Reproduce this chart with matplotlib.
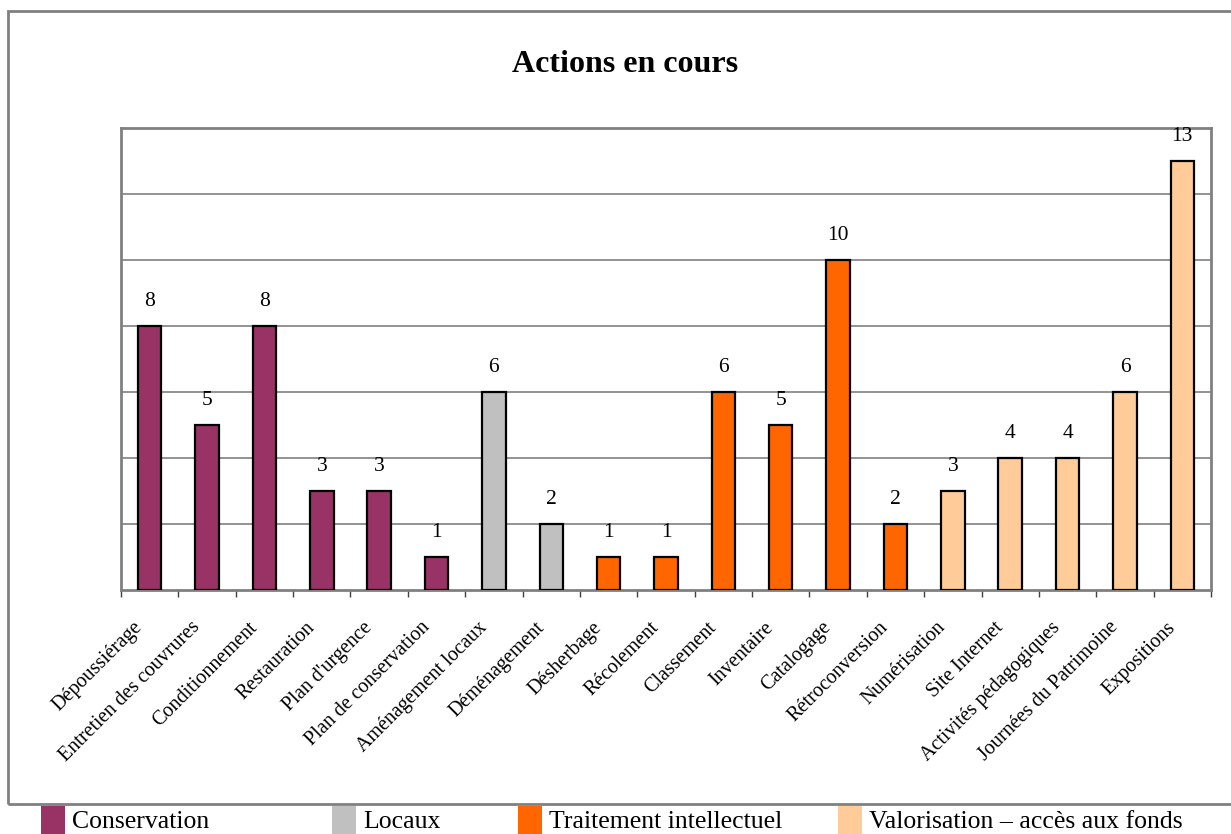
import matplotlib.pyplot as plt
import matplotlib.transforms as mtransforms
from matplotlib.patches import Rectangle

plt.rcParams['font.family'] = ['Liberation Serif', 'DejaVu Serif']

# Data
actions = ["Dépoussiérage", "Entretien des couvrures", "Conditionnement", "Restauration",
           "Plan d'urgence", "Plan de conservation", "Aménagement locaux", "Déménagement",
           "Désherbage", "Récolement", "Classement", "Inventaire", "Catalogage",
           "Rétroconversion", "Numérisation", "Site Internet", "Activités pédagogiques",
           "Journées du Patrimoine", "Expositions"]
values = [8, 5, 8, 3, 3, 1, 6, 2, 1, 1, 6, 5, 10, 2, 3, 4, 4, 6, 13]
groups = ["Conservation"] * 6 + ["Locaux"] * 2 + ["Traitement intellectuel"] * 6 + \
         ["Valorisation – accès aux fonds"] * 5
group_names = ["Conservation", "Locaux", "Traitement intellectuel", "Valorisation – accès aux fonds"]
group_colors = {"Conservation": "#993366", "Locaux": "#C0C0C0",
                "Traitement intellectuel": "#FF6600", "Valorisation – accès aux fonds": "#FFCC99"}

fig = plt.figure(figsize=(12.31, 8.34), dpi=100)
W, H = 1231, 834

# outer chart frame
fig.patches.append(Rectangle((8 / W, 1 - 804 / H), 1240 / W, (804 - 11) / H,
                             transform=fig.transFigure, fill=False,
                             edgecolor="#808080", linewidth=2))

ax = fig.add_axes([121 / W, 1 - 590 / H, (1211 - 121) / W, (590 - 128) / H])
x = range(len(actions))
colors = [group_colors[g] for g in groups]
bars = ax.bar(x, values, width=0.41, color=colors, edgecolor="black", linewidth=1.6, zorder=3)

for xi, v in zip(x, values):
    ax.annotate(str(v), (xi, v), xytext=(0, 11), textcoords="offset points",
                ha="center", va="bottom", fontsize=15.5)

ax.set_xlim(-0.5, len(actions) - 0.5)
ax.set_ylim(0, 14)
ax.set_yticks([])
for yv in range(2, 14, 2):
    ax.axhline(yv, color="#808080", linewidth=1.2, zorder=1)

for s in ax.spines.values():
    s.set_color("#808080")
    s.set_linewidth(2)

ax.set_xticks([i - 0.5 for i in range(len(actions) + 1)])
ax.set_xticklabels([])
ax.tick_params(axis="x", which="major", length=5, width=1, color="#404040", direction="out")
ax.set_xticks(list(x), minor=True)
ax.set_xticklabels(actions, minor=True, rotation=45, ha="right", va="center",
                   rotation_mode="anchor", fontsize=14.5)
ax.tick_params(axis="x", which="minor", length=0, pad=25)
offset = mtransforms.ScaledTranslation(-7 / 72, 0, fig.dpi_scale_trans)
for lab in ax.get_xticklabels(minor=True):
    lab.set_transform(lab.get_transform() + offset)

fig.text(625 / W, 1 - 65 / H, "Actions en cours", ha="center", va="center",
         fontsize=23, fontweight="bold")

# legend along the bottom
leg_x = [41, 332, 518, 838]
for name, lx in zip(group_names, leg_x):
    fig.patches.append(Rectangle((lx / W, 0), 24 / W, (834 - 806) / H,
                                 transform=fig.transFigure, facecolor=group_colors[name],
                                 edgecolor="none"))
    fig.text((lx + 31) / W, 1 - 822 / H, name, ha="left", va="center", fontsize=18.5)

fig.savefig("out.png", dpi=100)
